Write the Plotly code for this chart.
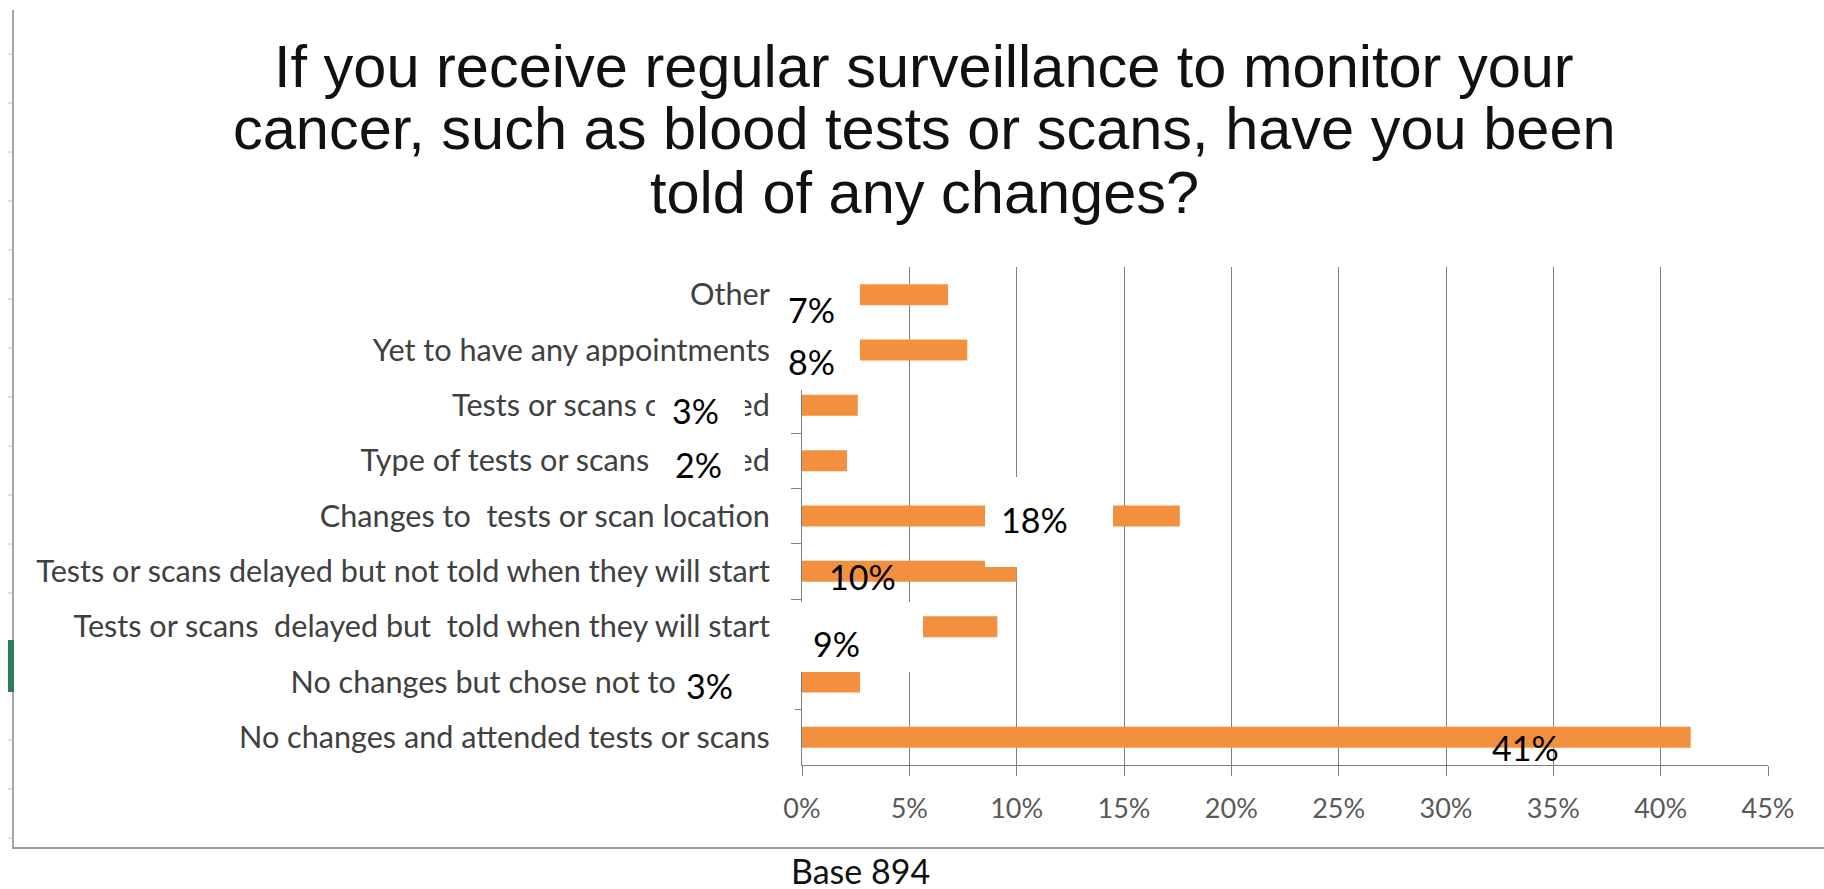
import plotly.graph_objects as go

# ---------------- data ----------------
categories = [
    "Other",
    "Yet to have any appointments",
    "Tests or scans cancelled",
    "Type of tests or scans changed",
    "Changes to  tests or scan location",
    "Tests or scans delayed but not told when they will start",
    "Tests or scans  delayed but  told when they will start",
    "No changes but chose not to attend",
    "No changes and attended tests or scans",
]
values = [6.8, 7.7, 2.6, 2.1, 17.6, 10.0, 9.1, 2.7, 41.4]
x_ticks = [0, 5, 10, 15, 20, 25, 30, 35, 40, 45]
x_tick_labels = [f"{t}%" for t in x_ticks]
title_lines = [
    "If you receive regular surveillance to monitor your",
    "cancer, such as blood tests or scans, have you been",
    "told of any changes?",
]
base_note = "Base 894"

# ---------------- layout constants (pixels) ----------------
W, H = 1824, 889
PL, PR, PT, PB = 802, 1768, 267, 765
XMAX = 45
PX_PER_PCT = (PR - PL) / XMAX

def pxx(px):
    return (px - PL) / (PR - PL)

def pxy(py):
    return (PB - py) / (PB - PT)

# label placement (percent units along x, pixel shift in y)
label_x = [0.42, 0.42, -4.96, -4.82, 10.85, 2.84, 1.6, -4.33, 33.7]
label_dy = [-15, -11, -5, -4, -3, -5, -17, -3, -10]

ORANGE = "#F2903F"
GRID = "#808080"
LABEL_FONT = "Lato, Carlito, Calibri, sans-serif"

fig = go.Figure()
fig.add_trace(go.Bar(
    y=categories, x=values, orientation="h",
    marker=dict(color=ORANGE, line=dict(width=0)),
    width=0.38, hoverinfo="skip",
))

shapes = []
# white patches that sit over parts of the chart
patches = [
    (772, 262, 860, 390),
    (655, 388, 745, 483),
    (985, 477, 1113, 567),
    (795, 602, 923, 672),
    (676, 643, 795, 728),
]
for x0, y0, x1, y1 in patches:
    shapes.append(dict(type="rect", xref="paper", yref="paper",
                       x0=pxx(x0), x1=pxx(x1), y0=pxy(y1), y1=pxy(y0),
                       fillcolor="white", line=dict(width=0), layer="above"))

# spreadsheet frame: left border, bottom border, small ticks, green marker
shapes.append(dict(type="line", xref="paper", yref="paper",
                   x0=pxx(13), x1=pxx(13), y0=pxy(848), y1=pxy(10),
                   line=dict(color="#a6a6a6", width=2), layer="above"))
shapes.append(dict(type="line", xref="paper", yref="paper",
                   x0=pxx(12), x1=pxx(1824), y0=pxy(848), y1=pxy(848),
                   line=dict(color="#9a9a9a", width=2), layer="above"))
for k in range(17):
    ty = 838 - 49 * k
    shapes.append(dict(type="line", xref="paper", yref="paper",
                       x0=pxx(8), x1=pxx(13), y0=pxy(ty), y1=pxy(ty),
                       line=dict(color="#c0c0c0", width=1), layer="above"))
shapes.append(dict(type="rect", xref="paper", yref="paper",
                   x0=pxx(8), x1=pxx(14), y0=pxy(692), y1=pxy(640),
                   fillcolor="#2e7d5b", line=dict(width=0), layer="above"))

annotations = []
# data labels
for cat, v, lx, dy in zip(categories, values, label_x, label_dy):
    if lx >= 0:
        ax_x, xs = lx, 0
    else:
        ax_x, xs = 0, lx * PX_PER_PCT
    annotations.append(dict(
        x=ax_x, y=cat, xref="x", yref="y", xshift=xs, yshift=dy,
        text=f"{round(v)}%", showarrow=False,
        font=dict(family=LABEL_FONT, size=34, color="#000000"),
        xanchor="center", yanchor="middle",
    ))

# title lines
title_centers = [66, 128, 193]
for line, cy in zip(title_lines, title_centers):
    annotations.append(dict(
        x=pxx(924), y=pxy(cy), xref="paper", yref="paper",
        text=line, showarrow=False,
        font=dict(family="Liberation Sans, Arial, sans-serif", size=59.5, color="#111111"),
        xanchor="center", yanchor="middle",
    ))

annotations.append(dict(
    x=pxx(789), y=pxy(870), xref="paper", yref="paper",
    text=base_note, showarrow=False,
    font=dict(family=LABEL_FONT, size=34, color="#111111"),
    xanchor="left", yanchor="middle",
))

fig.update_layout(
    width=W, height=H,
    margin=dict(l=PL, r=W - PR, t=PT, b=H - PB, pad=0),
    paper_bgcolor="white", plot_bgcolor="white",
    showlegend=False,
    shapes=shapes,
    annotations=annotations,
    xaxis=dict(
        range=[0, XMAX], tickmode="array", tickvals=x_ticks, ticktext=x_tick_labels,
        showgrid=True, gridcolor=GRID, gridwidth=1,
        zeroline=False,
        showline=True, linecolor=GRID, linewidth=1,
        ticks="outside", ticklen=10, tickcolor=GRID,
        ticklabelstandoff=10,
        tickfont=dict(family=LABEL_FONT, size=27, color="#595959"),
        fixedrange=True,
    ),
    yaxis=dict(
        type="category", categoryorder="array", categoryarray=categories,
        range=[len(categories) - 0.5, -0.5],
        showgrid=False, zeroline=False,
        showline=True, linecolor=GRID, linewidth=1,
        ticks="outside", ticklen=10, tickcolor=GRID, tickson="boundaries",
        ticklabelstandoff=25,
        tickfont=dict(family=LABEL_FONT, size=30.6, color="#404040"),
        fixedrange=True,
    ),
)

fig.write_html("out.html", config={"displayModeBar": False},
               post_script="document.body.style.margin='0';document.body.style.overflow='hidden';")
